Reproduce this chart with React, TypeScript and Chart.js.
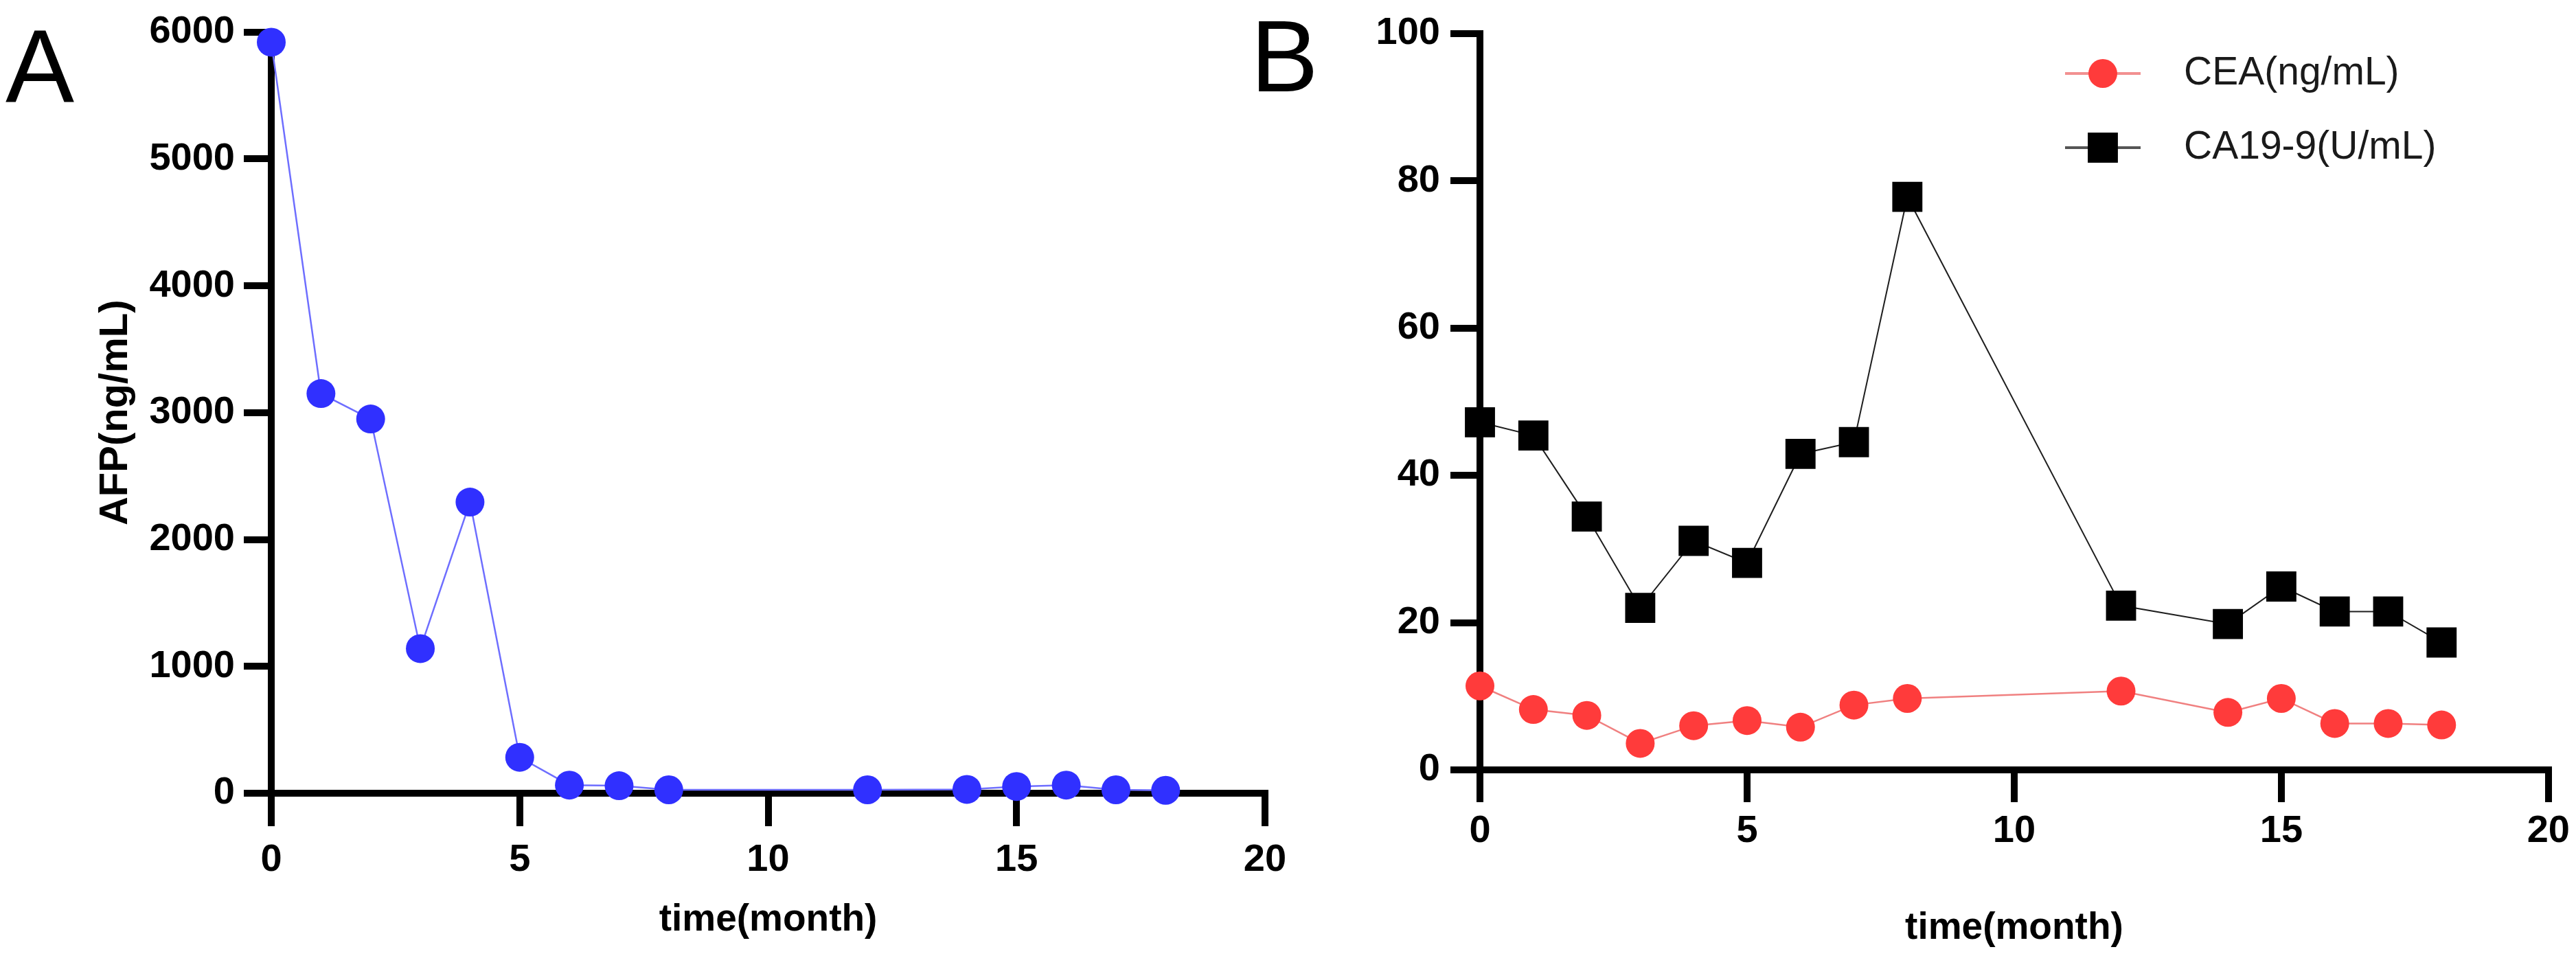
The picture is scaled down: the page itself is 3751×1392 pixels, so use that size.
import React, { useEffect, useRef } from 'react';
import { Chart, registerables } from 'chart.js';

Chart.register(...registerables);

// ---------- data ----------
const months = [0, 1, 2, 3, 4, 5, 6, 7, 8, 12, 14, 15, 16, 17, 18];
const afpValues = [5920, 3150, 2950, 1140, 2295, 283, 64, 59, 27, 27, 30, 53, 64, 27, 23];
const ceaValues = [11.4, 8.2, 7.4, 3.6, 6.0, 6.7, 5.8, 8.8, 9.7, 10.7, 7.8, 9.7, 6.3, 6.3, 6.1];
const ca199Values = [47.2, 45.4, 34.4, 22.0, 31.1, 28.1, 42.9, 44.5, 77.8, 22.3, 19.8, 24.9, 21.5, 21.5, 17.3];

const afpLabel = 'AFP(ng/mL)';
const ceaLabel = 'CEA(ng/mL)';
const ca199Label = 'CA19-9(U/mL)';
const xTitle = 'time(month)';

const W = 3751;
const H = 1392;
const SPLIT = 1900;

const TICK_FONT = { family: '"Liberation Sans", Arial, sans-serif', size: 56, weight: 'bold' as const };
const TITLE_FONT = { family: '"Liberation Sans", Arial, sans-serif', size: 55, weight: 'bold' as const };

const toPoints = (vals: number[]) => months.map((m, i) => ({ x: m, y: vals[i] }));
const plainTick = (v: any) => String(v);

const legendPlugin = {
  id: 'insideLegend',
  afterDatasetsDraw(chart: any, _args: any, opts: any) {
    if (!opts || !opts.enabled) return;
    const { ctx } = chart;
    chart.data.datasets.forEach((ds: any, i: number) => {
      const y = opts.y0 + i * opts.dy;
      ctx.save();
      ctx.strokeStyle = opts.lineColors[i];
      ctx.lineWidth = 4;
      ctx.beginPath();
      ctx.moveTo(opts.x1, y);
      ctx.lineTo(opts.x2, y);
      ctx.stroke();
      const cx = (opts.x1 + opts.x2) / 2;
      ctx.fillStyle = ds.pointBackgroundColor;
      if (ds.pointStyle === 'rect') {
        const s = ds.pointRadius * Math.SQRT1_2;
        ctx.fillRect(cx - s, y - s, 2 * s, 2 * s);
      } else {
        ctx.beginPath();
        ctx.arc(cx, y, ds.pointRadius, 0, Math.PI * 2);
        ctx.fill();
      }
      ctx.fillStyle = '#1a1a1a';
      ctx.font = opts.font;
      ctx.textBaseline = 'middle';
      ctx.textAlign = 'left';
      ctx.fillText(ds.label, opts.textX, y);
      ctx.restore();
    });
  },
};

function axisCommon(tickLength: number) {
  return {
    grid: {
      display: true,
      drawOnChartArea: false,
      drawTicks: true,
      tickLength,
      lineWidth: 10,
      tickWidth: 10,
      color: '#000',
      tickColor: '#000',
    },
    border: { display: true, width: 10, color: '#000' },
  };
}

export default function App() {
  const refA = useRef<HTMLCanvasElement>(null);
  const refB = useRef<HTMLCanvasElement>(null);

  useEffect(() => {
    const chartA = new Chart(refA.current!, {
      type: 'line',
      data: {
        datasets: [
          {
            label: afpLabel,
            data: toPoints(afpValues),
            borderColor: '#6e6eff',
            borderWidth: 2.5,
            pointRadius: 21,
            pointHoverRadius: 21,
            pointBackgroundColor: '#3030ff',
            pointBorderWidth: 0,
            pointStyle: 'circle',
            clip: false,
          } as any,
        ],
      },
      options: {
        responsive: false,
        animation: false,
        events: [],
        layout: { padding: { top: 36, right: 58, bottom: 0, left: 0 } },
        plugins: { legend: { display: false }, tooltip: { enabled: false } },
        scales: {
          x: {
            type: 'linear',
            min: 0,
            max: 20,
            ...axisCommon(48),
            ticks: { stepSize: 5, padding: 16, color: '#000', font: TICK_FONT, callback: plainTick },
            title: { display: true, text: xTitle, color: '#000', font: TITLE_FONT, padding: { top: 0, bottom: 19 } },
            afterFit: (s: any) => { s.height = H - 1155; },
          },
          y: {
            type: 'linear',
            min: 0,
            max: 6000,
            ...axisCommon(40),
            ticks: { stepSize: 1000, padding: 13, color: '#000', font: TICK_FONT, callback: plainTick },
            title: { display: true, text: afpLabel, color: '#000', font: { ...TITLE_FONT, size: 58 }, padding: { top: 134, bottom: 0 } },
            afterFit: (s: any) => { s.width = 395; },
          },
        },
      } as any,
    });

    const chartB = new Chart(refB.current!, {
      type: 'line',
      data: {
        datasets: [
          {
            label: ceaLabel,
            data: toPoints(ceaValues),
            borderColor: '#f08080',
            borderWidth: 2.5,
            pointRadius: 21,
            pointHoverRadius: 21,
            pointBackgroundColor: '#ff3b3b',
            pointBorderWidth: 0,
            pointStyle: 'circle',
            clip: false,
          } as any,
          {
            label: ca199Label,
            data: toPoints(ca199Values),
            borderColor: '#1e1e1e',
            borderWidth: 2,
            pointRadius: 31,
            pointHoverRadius: 31,
            pointBackgroundColor: '#000000',
            pointBorderWidth: 0,
            pointStyle: 'rect',
            clip: false,
          } as any,
        ],
      },
      options: {
        responsive: false,
        animation: false,
        events: [],
        layout: { padding: { top: 45, right: 40, bottom: 0, left: 0 } },
        plugins: {
          legend: { display: false },
          tooltip: { enabled: false },
          insideLegend: {
            enabled: true,
            x1: 1107,
            x2: 1217,
            y0: 107,
            dy: 108,
            textX: 1280,
            font: '57px "Liberation Sans", Arial, sans-serif',
            lineColors: ['#f29090', '#555555'],
          },
        },
        scales: {
          x: {
            type: 'linear',
            min: 0,
            max: 20,
            ...axisCommon(47),
            ticks: { stepSize: 5, padding: 9, color: '#000', font: TICK_FONT, callback: plainTick },
            title: { display: true, text: xTitle, color: '#000', font: TITLE_FONT, padding: { top: 0, bottom: 7 } },
            afterFit: (s: any) => { s.height = H - 1121; },
          },
          y: {
            type: 'linear',
            min: 0,
            max: 100,
            ...axisCommon(43),
            ticks: { stepSize: 20, padding: 15, color: '#000', font: TICK_FONT, callback: plainTick },
            afterFit: (s: any) => { s.width = 2155 - SPLIT; },
          },
        },
      } as any,
      plugins: [legendPlugin as any],
    });

    return () => {
      chartA.destroy();
      chartB.destroy();
    };
  }, []);

  const letterStyle: React.CSSProperties = {
    position: 'absolute',
    fontFamily: '"Liberation Sans", Arial, sans-serif',
    color: '#000',
    margin: 0,
    padding: 0,
  };

  return (
    <div style={{ position: 'absolute', left: 0, top: 0, width: W, height: H, overflow: 'hidden', background: '#fff' }}>
      <canvas ref={refA} width={SPLIT} height={H} style={{ position: 'absolute', left: 0, top: 0 }} />
      <canvas ref={refB} width={W - SPLIT} height={H} style={{ position: 'absolute', left: SPLIT, top: 0 }} />
      <div style={{ ...letterStyle, left: 8, top: 21, fontSize: 150, lineHeight: '150px' }}>A</div>
      <div style={{ ...letterStyle, left: 1821, top: 8, fontSize: 148, lineHeight: '148px' }}>B</div>
    </div>
  );
}
